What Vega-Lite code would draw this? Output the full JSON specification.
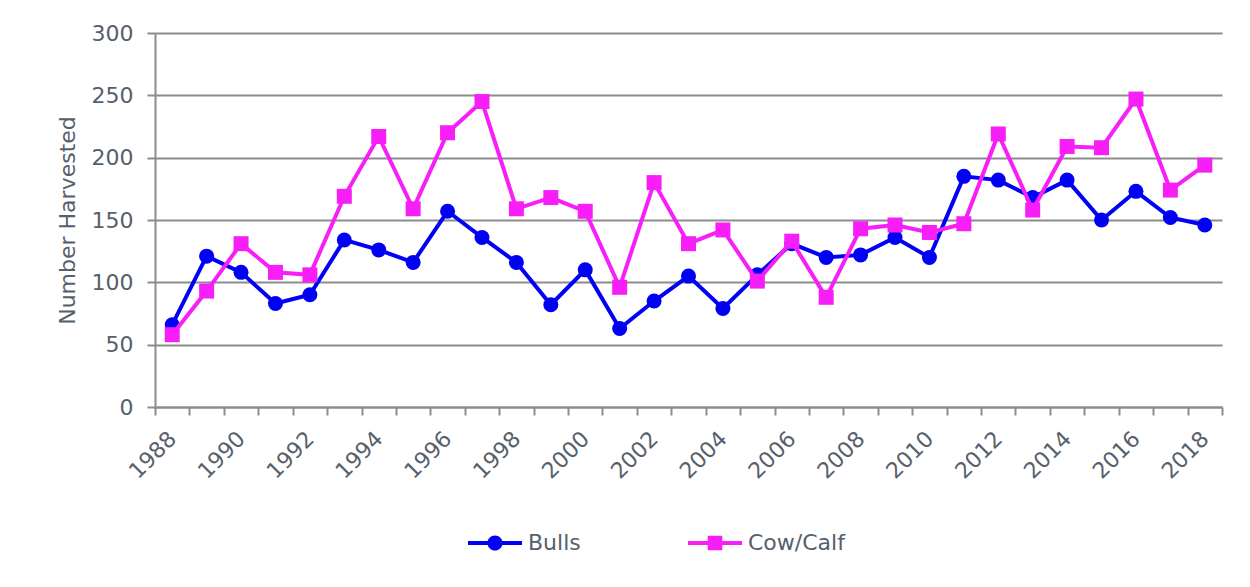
{
  "$schema": "https://vega.github.io/schema/vega-lite/v6.json",
  "width": 1067,
  "height": 374,
  "autosize": {"type": "none"},
  "padding": {"left": 155, "top": 33, "right": 28, "bottom": 180},
  "background": "white",
  "config": {
    "view": {"stroke": null},
    "font": "DejaVu Sans",
    "axis": {"labelFont": "DejaVu Sans", "titleFont": "DejaVu Sans", "labelColor": "#56606b", "titleColor": "#56606b"}
  },
  "data": {
    "values": [
      {"year": "1988", "series": "Bulls", "value": 66},
      {"year": "1989", "series": "Bulls", "value": 121},
      {"year": "1990", "series": "Bulls", "value": 108},
      {"year": "1991", "series": "Bulls", "value": 83},
      {"year": "1992", "series": "Bulls", "value": 90},
      {"year": "1993", "series": "Bulls", "value": 134},
      {"year": "1994", "series": "Bulls", "value": 126},
      {"year": "1995", "series": "Bulls", "value": 116},
      {"year": "1996", "series": "Bulls", "value": 157},
      {"year": "1997", "series": "Bulls", "value": 136},
      {"year": "1998", "series": "Bulls", "value": 116},
      {"year": "1999", "series": "Bulls", "value": 82},
      {"year": "2000", "series": "Bulls", "value": 110},
      {"year": "2001", "series": "Bulls", "value": 63},
      {"year": "2002", "series": "Bulls", "value": 85},
      {"year": "2003", "series": "Bulls", "value": 105},
      {"year": "2004", "series": "Bulls", "value": 79},
      {"year": "2005", "series": "Bulls", "value": 106},
      {"year": "2006", "series": "Bulls", "value": 131},
      {"year": "2007", "series": "Bulls", "value": 120},
      {"year": "2008", "series": "Bulls", "value": 122},
      {"year": "2009", "series": "Bulls", "value": 136},
      {"year": "2010", "series": "Bulls", "value": 120},
      {"year": "2011", "series": "Bulls", "value": 185},
      {"year": "2012", "series": "Bulls", "value": 182},
      {"year": "2013", "series": "Bulls", "value": 168},
      {"year": "2014", "series": "Bulls", "value": 182},
      {"year": "2015", "series": "Bulls", "value": 150},
      {"year": "2016", "series": "Bulls", "value": 173},
      {"year": "2017", "series": "Bulls", "value": 152},
      {"year": "2018", "series": "Bulls", "value": 146},
      {"year": "1988", "series": "Cow/Calf", "value": 58},
      {"year": "1989", "series": "Cow/Calf", "value": 93},
      {"year": "1990", "series": "Cow/Calf", "value": 131},
      {"year": "1991", "series": "Cow/Calf", "value": 108},
      {"year": "1992", "series": "Cow/Calf", "value": 106},
      {"year": "1993", "series": "Cow/Calf", "value": 169},
      {"year": "1994", "series": "Cow/Calf", "value": 217},
      {"year": "1995", "series": "Cow/Calf", "value": 159},
      {"year": "1996", "series": "Cow/Calf", "value": 220},
      {"year": "1997", "series": "Cow/Calf", "value": 245},
      {"year": "1998", "series": "Cow/Calf", "value": 159},
      {"year": "1999", "series": "Cow/Calf", "value": 168},
      {"year": "2000", "series": "Cow/Calf", "value": 157},
      {"year": "2001", "series": "Cow/Calf", "value": 96},
      {"year": "2002", "series": "Cow/Calf", "value": 180},
      {"year": "2003", "series": "Cow/Calf", "value": 131},
      {"year": "2004", "series": "Cow/Calf", "value": 142},
      {"year": "2005", "series": "Cow/Calf", "value": 101},
      {"year": "2006", "series": "Cow/Calf", "value": 133},
      {"year": "2007", "series": "Cow/Calf", "value": 88},
      {"year": "2008", "series": "Cow/Calf", "value": 143},
      {"year": "2009", "series": "Cow/Calf", "value": 146},
      {"year": "2010", "series": "Cow/Calf", "value": 140},
      {"year": "2011", "series": "Cow/Calf", "value": 147},
      {"year": "2012", "series": "Cow/Calf", "value": 219},
      {"year": "2013", "series": "Cow/Calf", "value": 158},
      {"year": "2014", "series": "Cow/Calf", "value": 209},
      {"year": "2015", "series": "Cow/Calf", "value": 208},
      {"year": "2016", "series": "Cow/Calf", "value": 247},
      {"year": "2017", "series": "Cow/Calf", "value": 174},
      {"year": "2018", "series": "Cow/Calf", "value": 194}
    ]
  },
  "encoding": {
    "x": {
      "field": "year", "type": "ordinal",
      "scale": {"type": "band", "paddingInner": 0, "paddingOuter": 0},
      "axis": {
        "title": null,
        "tickBand": "extent",
        "labelAngle": -45,
        "labelAlign": "right",
        "labelBaseline": "middle",
        "labelFontSize": 22,
        "labelPadding": 20,
        "labelOverlap": false,
        "labelExpr": "toNumber(datum.value) % 2 === 0 ? datum.label : ''",
        "domainColor": "#8c8c8c", "domainWidth": 2,
        "tickColor": "#8c8c8c", "tickWidth": 2, "tickSize": 8,
        "grid": false
      }
    },
    "y": {
      "field": "value", "type": "quantitative",
      "scale": {"domain": [0, 300], "nice": false},
      "axis": {
        "title": "Number Harvested",
        "titleFontSize": 22, "titleFontWeight": "normal", "titlePadding": 12,
        "values": [0, 50, 100, 150, 200, 250, 300],
        "labelFontSize": 22, "labelPadding": 14,
        "domainColor": "#8c8c8c", "domainWidth": 2,
        "tickColor": "#8c8c8c", "tickWidth": 2, "tickSize": 8,
        "grid": true, "gridColor": "#8c8c8c", "gridWidth": 2
      }
    }
  },
  "layer": [
    {
      "transform": [{"filter": "datum.series === 'Bulls'"}],
      "mark": {"type": "line", "strokeWidth": 4, "color": "#0000f5"}
    },
    {
      "transform": [{"filter": "datum.series === 'Bulls'"}],
      "mark": {"type": "point", "shape": "circle", "filled": true, "opacity": 1, "size": 225, "color": "#0000f5"}
    },
    {
      "transform": [{"filter": "datum.series === 'Cow/Calf'"}],
      "mark": {"type": "line", "strokeWidth": 4, "color": "#f81ef8"}
    },
    {
      "transform": [{"filter": "datum.series === 'Cow/Calf'"}],
      "mark": {"type": "square", "filled": true, "opacity": 1, "size": 225, "color": "#f81ef8"}
    },
    {
      "mark": {"type": "point", "filled": true, "size": 0, "opacity": 1},
      "encoding": {
        "color": {
          "field": "series", "type": "nominal",
          "scale": {"domain": ["Bulls", "Cow/Calf"], "range": ["#0000f5", "#f81ef8"]},
          "legend": {
            "title": null,
            "orient": "none",
            "legendX": 313,
            "legendY": 483,
            "direction": "horizontal",
            "labelFontSize": 22,
            "labelColor": "#56606b",
            "labelFont": "DejaVu Sans",
            "labelOffset": 6,
            "columnPadding": 107,
            "symbolSize": 2916,
            "symbolStrokeWidth": 0,
            "symbolOpacity": 1
          }
        },
        "shape": {
          "field": "series", "type": "nominal",
          "scale": {"domain": ["Bulls", "Cow/Calf"], "range": ["M-1,-0.07L1,-0.07L1,0.07L-1,0.07Z M0.28,0A0.28,0.28 0 1,1 -0.28,0A0.28,0.28 0 1,1 0.28,0Z", "M-1,-0.07L1,-0.07L1,0.07L-1,0.07Z M-0.27,-0.27L0.27,-0.27L0.27,0.27L-0.27,0.27Z"]},
          "legend": {
            "title": null,
            "orient": "none",
            "legendX": 313,
            "legendY": 483,
            "direction": "horizontal",
            "labelFontSize": 22,
            "labelColor": "#56606b",
            "labelFont": "DejaVu Sans",
            "labelOffset": 6,
            "columnPadding": 107,
            "symbolSize": 2916,
            "symbolStrokeWidth": 0,
            "symbolOpacity": 1
          }
        }
      }
    }
  ]
}
